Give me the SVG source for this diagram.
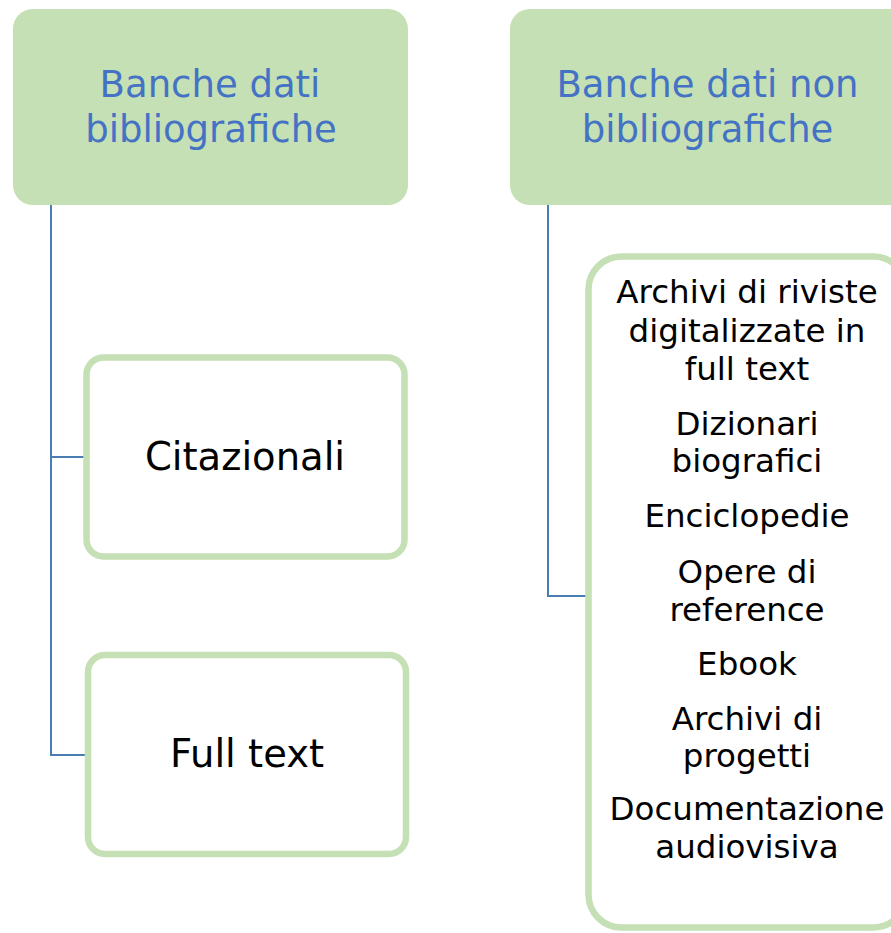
<svg xmlns="http://www.w3.org/2000/svg" width="891" height="933" viewBox="0 0 891 933">
<style>
.hdr{fill:#C5E0B4;}
.box{fill:#FFFFFF;stroke:#C5E0B4;stroke-width:6.5;}
.ht{font-family:"DejaVu Sans",sans-serif;font-size:37px;fill:#4472C4;text-anchor:middle;}
.bt{font-family:"DejaVu Sans",sans-serif;font-size:38.5px;fill:#000000;text-anchor:middle;}
.lt{font-family:"DejaVu Sans",sans-serif;font-size:32.5px;fill:#000000;text-anchor:middle;}
.con{fill:none;stroke:#4A7EB3;stroke-width:2;}
</style>
<rect width="891" height="933" fill="#FFFFFF"/>
<g id="connectors">
<path class="con" d="M51,205 V755 H86 M51,457 H84"/>
<path class="con" d="M548,205 V596 H586"/>
</g>
<g id="node-banche-bib">
<rect class="hdr" x="13" y="9" width="395" height="196" rx="20"/>
<text class="ht" x="210" y="97">Banche dati</text>
<text class="ht" x="211" y="142">bibliografiche</text>
</g>
<g id="node-banche-nonbib">
<rect class="hdr" x="510" y="9" width="420" height="196" rx="20"/>
<text class="ht" x="707.5" y="97">Banche dati non</text>
<text class="ht" x="707.5" y="142">bibliografiche</text>
</g>
<g id="node-citazionali">
<rect class="box" x="86.5" y="357.5" width="318" height="199" rx="17"/>
<text class="bt" x="245" y="470">Citazionali</text>
</g>
<g id="node-fulltext">
<rect class="box" x="88" y="655" width="318" height="199" rx="17"/>
<text class="bt" x="247" y="767">Full text</text>
</g>
<g id="node-list">
<rect class="box" x="588.5" y="256.5" width="318" height="671" rx="33"/>
<text class="lt" x="747" y="303">Archivi di riviste</text>
<text class="lt" x="747" y="342">digitalizzate in</text>
<text class="lt" x="747" y="380">full text</text>
<text class="lt" x="747" y="435">Dizionari</text>
<text class="lt" x="747" y="472">biografici</text>
<text class="lt" x="747" y="527">Enciclopedie</text>
<text class="lt" x="747" y="583">Opere di</text>
<text class="lt" x="747" y="621">reference</text>
<text class="lt" x="747" y="675">Ebook</text>
<text class="lt" x="747" y="730">Archivi di</text>
<text class="lt" x="747" y="767">progetti</text>
<text class="lt" x="747" y="820">Documentazione</text>
<text class="lt" x="747" y="858">audiovisiva</text>
</g>
</svg>
